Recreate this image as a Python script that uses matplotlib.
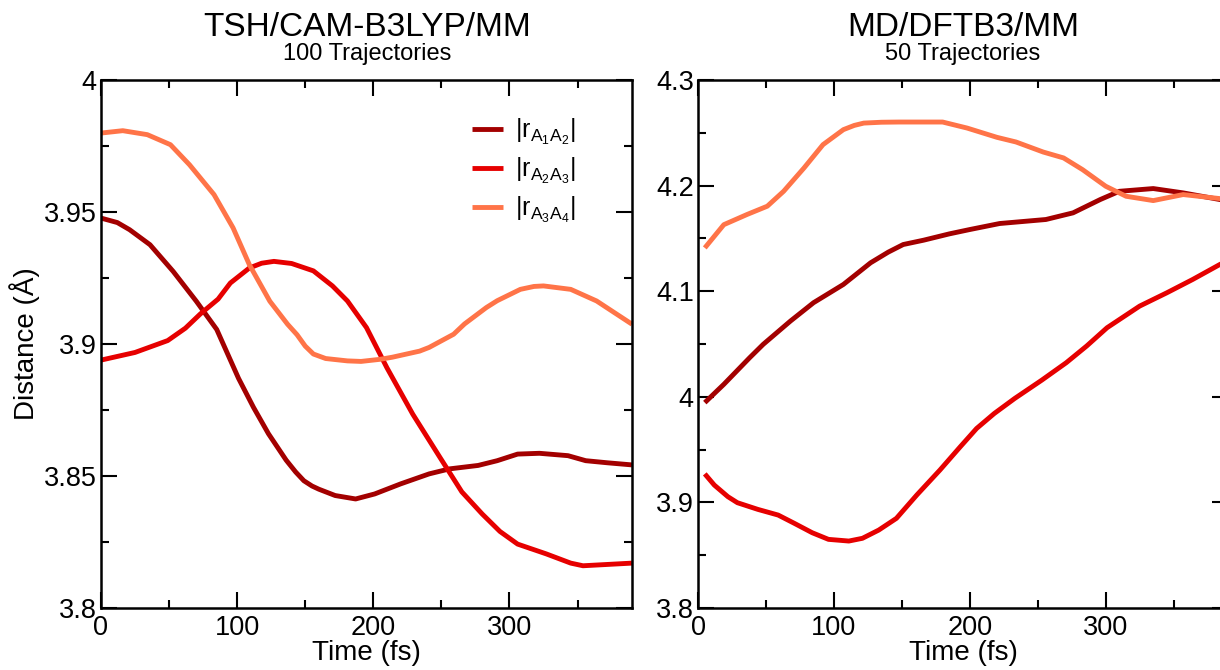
import matplotlib
matplotlib.use("Agg")
import matplotlib.pyplot as plt
from matplotlib.ticker import MultipleLocator, FuncFormatter

plt.rcParams['font.family'] = ['Liberation Sans', 'DejaVu Sans']
plt.rcParams['mathtext.fontset'] = 'custom'
plt.rcParams['mathtext.rm'] = 'Liberation Sans'
plt.rcParams['mathtext.it'] = 'Liberation Sans'
plt.rcParams['mathtext.default'] = 'regular'

# --- TSH/CAM-B3LYP/MM (left panel) ---
t_a12_tsh = [0, 12, 21, 36, 53, 70, 85, 101, 112, 123, 136, 143, 149, 155, 160, 172,
             187, 201, 220, 241, 256, 277, 291, 306, 322, 343, 356, 372, 390]
d_a12_tsh = [3.9477, 3.9460, 3.9433, 3.9376, 3.9275, 3.9162, 3.9055, 3.8870, 3.8760,
             3.8660, 3.8560, 3.8515, 3.8482, 3.8462, 3.8450, 3.8426, 3.8413, 3.8432,
             3.8470, 3.8508, 3.8527, 3.8540, 3.8558, 3.8583, 3.8586, 3.8577, 3.8558,
             3.8550, 3.8542]

t_a23_tsh = [0, 25, 49, 62, 73, 86, 95, 109, 118, 127, 140, 156, 170, 181, 195, 210,
             229, 249, 265, 280, 293, 306, 327, 345, 354, 372, 390]
d_a23_tsh = [3.8939, 3.8968, 3.9013, 3.9060, 3.9114, 3.9170, 3.9231, 3.9288, 3.9306,
             3.9313, 3.9305, 3.9277, 3.9220, 3.9163, 3.9062, 3.8910, 3.8734, 3.8570,
             3.8440, 3.8356, 3.8290, 3.8242, 3.8205, 3.8170, 3.8160, 3.8165, 3.8170]

t_a34_tsh = [0, 16, 34, 51, 65, 83, 97, 109, 124, 137, 144, 150, 156, 165, 181, 191,
             205, 214, 234, 241, 259, 267, 283, 291, 308, 318, 325, 345, 364, 390]
d_a34_tsh = [3.9799, 3.9808, 3.9793, 3.9755, 3.9679, 3.9566, 3.9440, 3.9300, 3.9162,
             3.9075, 3.9035, 3.8992, 3.8962, 3.8945, 3.8936, 3.8934, 3.8942, 3.8950,
             3.8973, 3.8987, 3.9037, 3.9076, 3.9138, 3.9164, 3.9207, 3.9218, 3.9220,
             3.9207, 3.9163, 3.9075]

# --- MD/DFTB3/MM (right panel) ---
t_a12_md = [5, 19, 38, 48, 68, 85, 107, 127, 140, 151, 166, 185, 200, 222, 256, 276,
            296, 310, 335, 357, 384, 390]
d_a12_md = [3.9945, 4.0118, 4.0370, 4.0497, 4.0717, 4.0891, 4.1064, 4.1269, 4.1370,
            4.1442, 4.1483, 4.1543, 4.1584, 4.1641, 4.1679, 4.1742, 4.1868, 4.1946,
            4.1972, 4.1931, 4.1868, 4.1860]

t_a23_md = [5, 12, 22, 29, 44, 59, 71, 84, 96, 111, 121, 133, 146, 161, 178, 193, 205,
            218, 233, 253, 271, 286, 301, 325, 345, 364, 384, 390]
d_a23_md = [3.9270, 3.9164, 3.9054, 3.8997, 3.8934, 3.8880, 3.8801, 3.8713, 3.8650,
            3.8634, 3.8660, 3.8738, 3.8849, 3.9070, 3.9306, 3.9527, 3.9700, 3.9842,
            3.9984, 4.0158, 4.0323, 4.0481, 4.0654, 4.0859, 4.0985, 4.1111, 4.1253,
            4.1290]

t_a34_md = [5, 19, 36, 51, 63, 78, 92, 107, 115, 122, 135, 148, 180, 198, 220, 234,
            254, 269, 283, 300, 315, 335, 357, 384, 390]
d_a34_md = [4.1410, 4.1630, 4.1726, 4.1805, 4.1946, 4.2167, 4.2388, 4.2530, 4.2570,
            4.2592, 4.2600, 4.2602, 4.2602, 4.2545, 4.2457, 4.2413, 4.2318, 4.2262,
            4.2151, 4.1994, 4.1899, 4.1858, 4.1915, 4.1877, 4.1870]

labels = [r'$|r_{A_1A_2}|$', r'$|r_{A_2A_3}|$', r'$|r_{A_3A_4}|$']
colors = ['#a30000', '#e60000', '#ff7448']

W, H = 1220, 670
fig = plt.figure(figsize=(W / 100, H / 100), dpi=100)
ax1 = fig.add_axes([101 / W, 62 / H, 531 / W, 528 / H])
ax2 = fig.add_axes([698 / W, 62 / H, 530 / W, 528 / H])


def style(ax, ymin, ymax, ymaj, ymin_step):
    ax.set_xlim(0, 390)
    ax.set_ylim(ymin, ymax)
    ax.xaxis.set_major_locator(MultipleLocator(100))
    ax.xaxis.set_minor_locator(MultipleLocator(50))
    ax.yaxis.set_major_locator(MultipleLocator(ymaj))
    ax.yaxis.set_minor_locator(MultipleLocator(ymin_step))
    ax.yaxis.set_major_formatter(FuncFormatter(lambda v, p: '%g' % round(v, 3)))
    ax.tick_params(which='both', direction='in', top=True, right=True,
                   labelsize=19.5, width=1.5)
    ax.tick_params(axis='x', pad=5)
    ax.tick_params(axis='y', pad=3)
    ax.tick_params(which='major', length=11.5)
    ax.tick_params(which='minor', length=5.8)
    for s in ax.spines.values():
        s.set_linewidth(1.8)
    ax.set_xlabel('Time (fs)', fontsize=20, labelpad=-1)


lw = 3.5
for t, d, c, lab in zip([t_a12_tsh, t_a23_tsh, t_a34_tsh],
                        [d_a12_tsh, d_a23_tsh, d_a34_tsh], colors, labels):
    ax1.plot(t, d, color=c, lw=lw, label=lab, solid_joinstyle='round', solid_capstyle='butt')
for t, d, c in zip([t_a12_md, t_a23_md, t_a34_md],
                   [d_a12_md, d_a23_md, d_a34_md], colors):
    ax2.plot(t, d, color=c, lw=lw, solid_joinstyle='round', solid_capstyle='butt')

style(ax1, 3.8, 4.0, 0.05, 0.025)
style(ax2, 3.8, 4.3, 0.1, 0.05)
ax1.set_ylabel('Distance (Å)', fontsize=20, labelpad=3)

ax1.legend(loc='upper left', bbox_to_anchor=(0.699, 0.93), frameon=False,
           borderpad=0, borderaxespad=0,
           fontsize=18, handlelength=1.25, handletextpad=0.45, labelspacing=0.35)

fig.text(367 / W, 1 - 28 / H, 'TSH/CAM-B3LYP/MM', ha='center', va='center', fontsize=24)
fig.text(367 / W, 1 - 54 / H, '100 Trajectories', ha='center', va='center', fontsize=17)
fig.text(963 / W, 1 - 28 / H, 'MD/DFTB3/MM', ha='center', va='center', fontsize=24)
fig.text(963 / W, 1 - 54 / H, '50 Trajectories', ha='center', va='center', fontsize=17)

fig.savefig('out.png', dpi=100)
